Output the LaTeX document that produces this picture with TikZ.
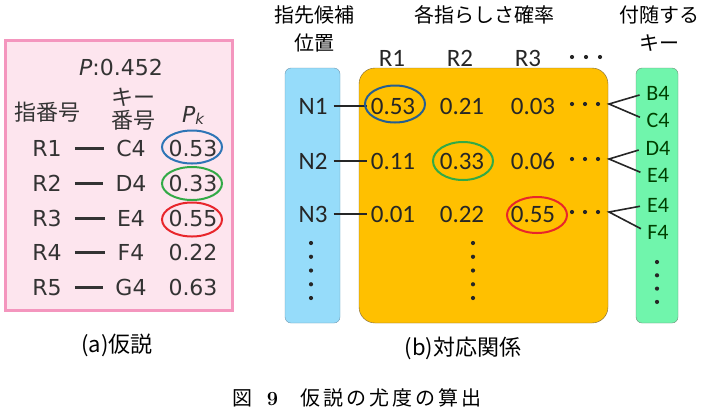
\documentclass[tikz,border=0pt]{standalone}
\usepackage{fontspec}
\newfontfamily\jp{Noto Sans CJK JP}
\newfontfamily\jpcap[LetterSpace=15]{Noto Sans CJK JP}
\newfontfamily\dv{DejaVu Sans}
\newfontfamily\calfont{Carlito}
\usetikzlibrary{positioning, calc}
\definecolor{pinkfill}{RGB}{253,229,238}
\definecolor{pinkline}{RGB}{244,150,190}
\definecolor{bluefill}{RGB}{150,220,250}
\definecolor{blueline}{RGB}{110,150,175}
\definecolor{orangefill}{RGB}{255,192,0}
\definecolor{orangeline}{RGB}{120,100,60}
\definecolor{greenfill}{RGB}{112,245,172}
\definecolor{greenline}{RGB}{110,140,120}
\definecolor{ringblue}{RGB}{46,117,182}
\definecolor{ringgreen}{RGB}{50,170,70}
\definecolor{ringred}{RGB}{232,38,43}
\tikzset{
  lft/.style={font=\dv\fontsize{22}{26}\selectfont, text=black!80},
  lfthead/.style={font=\jp\fontsize{22}{23}\selectfont, text=black!80, align=center},
  val/.style={font=\calfont\fontsize{25}{28}\selectfont, text=black!85},
  keytxt/.style={font=\calfont\fontsize{22}{24}\selectfont, text=green!25!black},
  headtxt/.style={font=\jp\fontsize{20}{28}\selectfont, align=center},
  captxt/.style={font=\jp\fontsize{22}{26}\selectfont},
  ring/.style={line width=2pt}
}

\begin{document}
\begin{tikzpicture}[x=1pt, y=-1pt, inner sep=0pt]
  \useasboundingbox (0,0) rectangle (703,408);
  % (a) hipotese
  \draw[line width=3pt, pinkline, fill=pinkfill] (5,40) rectangle (232,310);
  \node[lft] (ptot) at (121,67) {{\itshape P}:0.452};
  \node[lfthead] (hfin) at (47,112) {指番号};
  \node[lfthead] (hkey) at (133,109) {キー\\番号};
  \node[lft, anchor=base] (hpk) at (193,122) {{\itshape P}\raisebox{-2pt}{\fontsize{15}{15}\selectfont\itshape k}};
  \foreach \xn/\xr/\xk/\xp/\xy in {
    1/R1/C4/0.53/148.5, 2/R2/D4/0.33/183.5, 3/R3/E4/0.55/218.5,
    4/R4/F4/0.22/252.5, 5/R5/G4/0.63/287.5}
  { \node[lft] (r\xn) at (47,\xy) {\xr};
    \node[lft] (k\xn) at (131,\xy) {\xk};
    \node[lft] (p\xn) at (193,\xy) {\xp};
    \draw[line width=3pt, black!80, shorten <=13pt, shorten >=12pt] (r\xn) -- (k\xn); }
  \draw[ring, ringblue] (192,147) ellipse [x radius=30pt, y radius=16.5pt];
  \draw[ring, ringgreen] (192,183.5) ellipse [x radius=30pt, y radius=16.5pt];
  \draw[ring, ringred] (192,219.5) ellipse [x radius=30pt, y radius=17pt];
  \node[captxt] (capa) at (117,345) {(a)仮説};

  % (b) correspondencia
  \draw[blueline, fill=bluefill, rounded corners=6pt] (285,68) rectangle (340,323);
  \draw[orangeline, fill=orangefill, rounded corners=16pt] (359,68) rectangle (608,323);
  \draw[greenline, fill=greenfill, rounded corners=6pt] (636,68) rectangle (678,323);
  \node[headtxt] (hpos) at (314,29) {指先候補\\位置};
  \node[headtxt] (hprob) at (484,15) {各指らしさ確率};
  \node[headtxt] (hkeys) at (659,29) {付随する\\キー};
  \foreach \xn/\xx in {1/392, 2/460, 3/528}
    \node[val] (col\xn) at (\xx,58) {R\xn};
  \foreach \xd in {572,586,600}
    \fill[black!85] (\xd,57) circle[radius=2.1pt];
  \foreach \xn/\xa/\xb/\xc/\xy/\xu/\xl/\xyu/\xyl in {
    1/0.53/0.21/0.03/106/B4/C4/93/120,
    2/0.11/0.33/0.06/161/D4/E4/148/175,
    3/0.01/0.22/0.55/214/E4/F4/205/232}
  { \node[val] (n\xn) at (313,\xy) {N\xn};
    \node[val] (v\xn1) at (393,\xy) {\xa};
    \node[val] (v\xn2) at (462,\xy) {\xb};
    \node[val] (v\xn3) at (533,\xy) {\xc};
    \draw[line width=1.5pt, black!85, shorten <=6pt, shorten >=4pt] (n\xn) -- (v\xn1);
    \foreach \xd in {572,585,598}
      \fill[black!85] (\xd,\xy-2) circle[radius=2.1pt];
    \node[keytxt] (gu\xn) at (658,\xyu) {\xu};
    \node[keytxt] (gl\xn) at (658,\xyl) {\xl};
    \coordinate (apex\xn) at (609,\xy-2);
    \draw[line width=1.6pt, black!85, shorten <=7pt, shorten >=7pt]
      (gu\xn.west) -- (apex\xn) -- (gl\xn.west); }
  \draw[ring, ringblue!80!black] (395,104) ellipse [x radius=30pt, y radius=18.5pt];
  \draw[ring, ringgreen] (463,161) ellipse [x radius=30pt, y radius=19pt];
  \draw[ring, ringred] (537,215) ellipse [x radius=30pt, y radius=18pt];
  \foreach \xk in {0,...,4} {
    \fill[black!85] (311,243+13.75*\xk) circle[radius=2.1pt];
    \fill[black!85] (473,243+13.75*\xk) circle[radius=2.1pt]; }
  \foreach \xk in {0,...,3}
    \fill[black!85] (657,262+13.3*\xk) circle[radius=2.1pt];
  \node[captxt] (capb) at (463,348) {(b)対応関係};

  % legenda da figura
  \node[font=\fontsize{20}{24}\selectfont] (fig) at (357,398)
    {{\jp 図}\hspace{14pt}{\bfseries 9}\hspace{22pt}{\jpcap 仮説の尤度の算出}};
\end{tikzpicture}
\end{document}
